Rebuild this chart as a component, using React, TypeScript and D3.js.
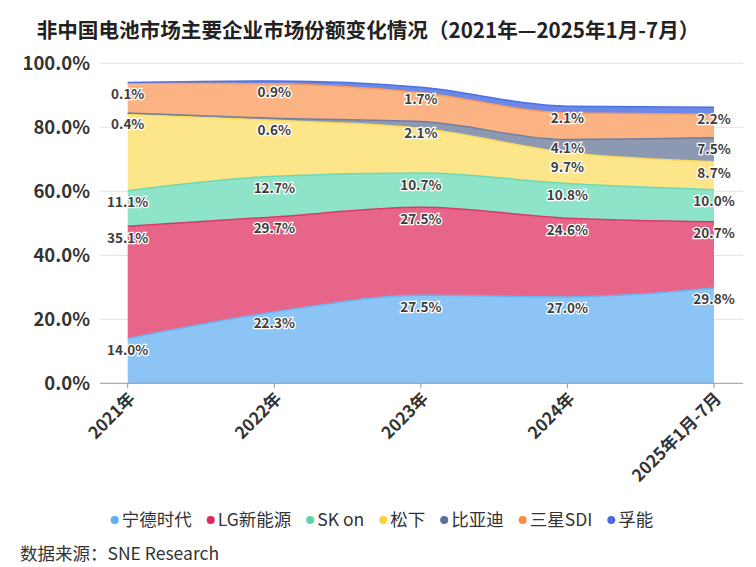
// Stacked area chart: non-China battery market share by company
import React, { useEffect, useRef } from 'react';
import * as d3 from 'd3';

const categories = ['2021年', '2022年', '2023年', '2024年', '2025年1月-7月'];
const seriesNames = ['宁德时代', 'LG新能源', 'SK on', '松下', '比亚迪', '三星SDI', '孚能'];

// share values (%)
const catl = [14.0, 22.3, 27.5, 27.0, 29.8];
const lgEs = [35.1, 29.7, 27.5, 24.6, 20.7];
const skOn = [11.1, 12.7, 10.7, 10.8, 10.0];
const panasonic = [23.9, 17.5, 14.0, 9.7, 8.7];
const byd = [0.4, 0.6, 2.1, 4.1, 7.5];
const samsungSdi = [9.4, 10.8, 9.0, 8.3, 7.4];
const farasis = [0.1, 0.9, 1.7, 2.1, 2.2];

const seriesValues = [catl, lgEs, skOn, panasonic, byd, samsungSdi, farasis];
const yTicks = [0, 20, 40, 60, 80, 100];

const areaColors = ['#8cc5f5', '#e76589', '#8ee4c8', '#fde68a', '#8d99b3', '#fcb383', '#6b87e8'];
const lineColors = ['#6bb3f0', '#d83a68', '#6dd8b2', '#f9d960', '#6f7e9c', '#fa9a5c', '#4d6fe0'];
const dotColors = ['#5aaef3', '#e0245e', '#5fd4a8', '#f9d23c', '#5b6f97', '#f98d45', '#4a6ce0'];

const FONT = '"Noto Sans CJK SC", "Noto Sans", sans-serif';

const App: React.FC = () => {
  const svgRef = useRef<SVGSVGElement>(null);

  useEffect(() => {
    const svg = d3.select(svgRef.current);
    svg.selectAll('*').remove();

    const width = 756;
    const height = 567;
    const grid = { left: 100, right: 743, top: 63.3, bottom: 383.3 };

    svg.attr('width', width).attr('height', height).style('font-family', FONT);

    const rows = categories.map((cat, i) => {
      const row: Record<string, any> = { cat };
      seriesNames.forEach((name, s) => (row[name] = seriesValues[s][i]));
      return row;
    });
    const stacked = d3.stack<Record<string, any>>().keys(seriesNames)(rows);

    const xScale = d3.scalePoint<string>().domain(categories).range([127.7, 714]);
    const yScale = d3.scaleLinear().domain([0, 100]).range([grid.bottom, grid.top]);

    // title
    svg
      .append('text')
      .attr('x', 368)
      .attr('y', 38)
      .attr('text-anchor', 'middle')
      .style('font-size', '20.6px')
      .style('font-weight', '700')
      .style('fill', '#222')
      .text('非中国电池市场主要企业市场份额变化情况（2021年—2025年1月-7月）');

    // grid lines + y labels
    yTicks.forEach((t) => {
      if (t > 0) {
        svg
          .append('line')
          .attr('x1', grid.left)
          .attr('x2', grid.right)
          .attr('y1', yScale(t))
          .attr('y2', yScale(t))
          .attr('stroke', '#e3e3e3')
          .attr('stroke-width', 1);
      }
      svg
        .append('text')
        .attr('x', 90)
        .attr('y', yScale(t))
        .attr('dy', '0.36em')
        .attr('text-anchor', 'end')
        .style('font-size', '18.5px')
        .style('font-weight', '700')
        .style('fill', '#333')
        .text(`${t.toFixed(1)}%`);
    });

    // areas
    const area = d3
      .area<d3.SeriesPoint<Record<string, any>>>()
      .x((d) => xScale(d.data.cat) as number)
      .y0((d) => yScale(d[0]))
      .y1((d) => yScale(d[1]))
      .curve(d3.curveMonotoneX);

    const topLine = d3
      .line<d3.SeriesPoint<Record<string, any>>>()
      .x((d) => xScale(d.data.cat) as number)
      .y((d) => yScale(d[1]))
      .curve(d3.curveMonotoneX);

    stacked.forEach((layer, s) => {
      svg.append('path').datum(layer).attr('fill', areaColors[s]).attr('d', area);
    });
    stacked.forEach((layer, s) => {
      svg
        .append('path')
        .datum(layer)
        .attr('fill', 'none')
        .attr('stroke', lineColors[s])
        .attr('stroke-width', 1.5)
        .attr('d', topLine);
    });

    // x axis
    svg
      .append('line')
      .attr('x1', grid.left)
      .attr('x2', grid.right)
      .attr('y1', grid.bottom)
      .attr('y2', grid.bottom)
      .attr('stroke', '#999')
      .attr('stroke-width', 1);

    categories.forEach((cat) => {
      const x = xScale(cat) as number;
      svg
        .append('line')
        .attr('x1', x)
        .attr('x2', x)
        .attr('y1', grid.bottom)
        .attr('y2', grid.bottom + 5)
        .attr('stroke', '#999');
      svg
        .append('text')
        .attr('transform', `translate(${x + 4}, ${grid.bottom + 12}) rotate(-45)`)
        .attr('text-anchor', 'end')
        .attr('dy', '0.36em')
        .style('font-size', '17px')
        .style('font-weight', '700')
        .style('fill', '#333')
        .text(cat);
    });

    // data labels: top series first, hide the ones that collide, push close ones apart
    const minGap = 19;
    categories.forEach((cat, i) => {
      const x = xScale(cat) as number;
      const placed: { s: number; cy: number }[] = [];
      for (let s = stacked.length - 1; s >= 0; s--) {
        const cy = yScale(stacked[s][i][1]) + 11.6;
        if (placed.some((p) => Math.abs(p.cy - cy) < 12.5)) continue;
        placed.push({ s, cy });
      }
      placed.sort((a, b) => a.cy - b.cy);
      for (let k = 1; k < placed.length; k++) {
        const gap = placed[k].cy - placed[k - 1].cy;
        if (gap < minGap) {
          const shift = (minGap - gap) / 2;
          placed[k - 1].cy -= shift;
          placed[k].cy += shift;
        }
      }
      placed.forEach(({ s, cy }) => {
        svg
          .append('text')
          .attr('x', x)
          .attr('y', cy)
          .attr('dy', '0.36em')
          .attr('text-anchor', 'middle')
          .style('font-size', '13.5px')
          .style('font-weight', '700')
          .style('fill', '#3d3d3d')
          .style('stroke', '#fff')
          .style('stroke-width', 2.5)
          .style('paint-order', 'stroke')
          .text(`${seriesValues[s][i].toFixed(1)}%`);
      });
    });

    // legend
    const legend = svg.append('g');
    let cursor = 0;
    seriesNames.forEach((name, s) => {
      const item = legend.append('g').attr('transform', `translate(${cursor}, 0)`);
      item.append('circle').attr('cx', 4).attr('cy', 0).attr('r', 4).attr('fill', dotColors[s]);
      const label = item
        .append('text')
        .attr('x', 11)
        .attr('y', 0)
        .attr('dy', '0.36em')
        .style('font-size', '17.5px')
        .style('fill', '#333')
        .text(name);
      const w = (label.node() as SVGTextElement).getComputedTextLength();
      cursor += 11 + w + 15;
    });
    const legendWidth = cursor - 15;
    legend.attr('transform', `translate(${382 - legendWidth / 2}, 520)`);

    // source
    svg
      .append('text')
      .attr('x', 20)
      .attr('y', 554)
      .attr('dy', '0.36em')
      .style('font-size', '17.5px')
      .style('fill', '#333')
      .text('数据来源：SNE Research');
  }, []);

  return (
    <svg ref={svgRef} style={{ position: 'absolute', left: 0, top: 0, background: '#fff' }}></svg>
  );
};

export default App;
